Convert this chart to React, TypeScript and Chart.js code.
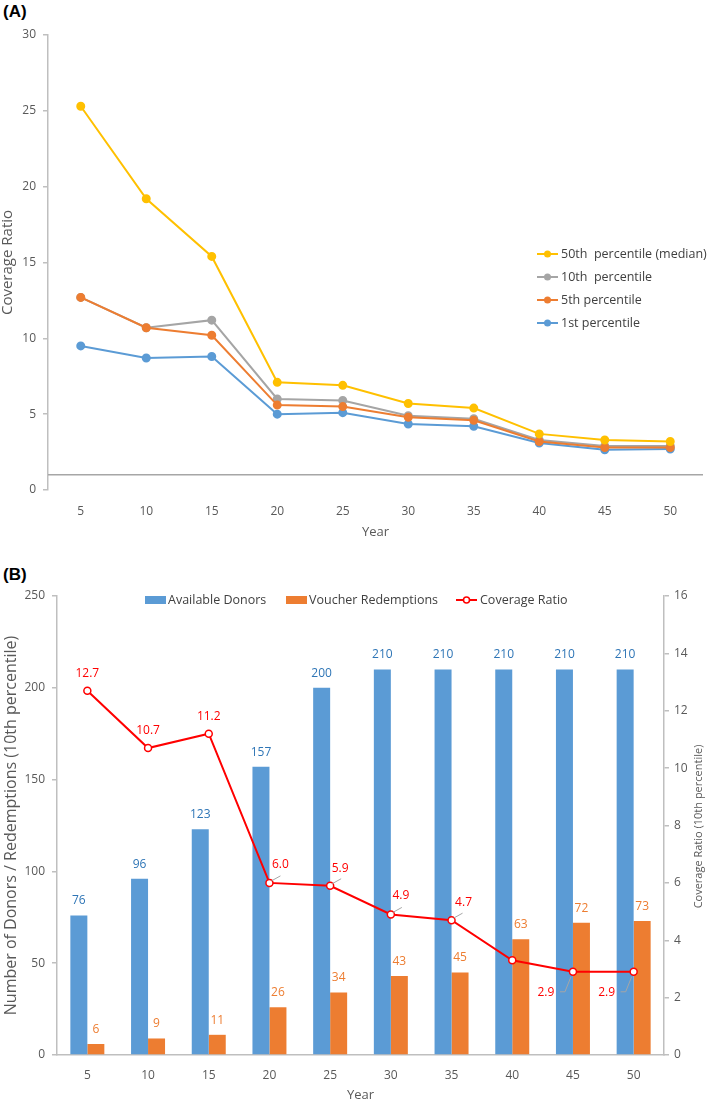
import React, { useEffect, useRef } from "react";
import { Chart, registerables } from "chart.js";

Chart.register(...registerables);

// ---------- DATA ----------
const years = ["5", "10", "15", "20", "25", "30", "35", "40", "45", "50"];

const seriesNamesA = [
  "50th  percentile (median)",
  "10th  percentile",
  "5th percentile",
  "1st percentile",
];
const p50 = [25.3, 19.2, 15.4, 7.1, 6.9, 5.7, 5.4, 3.7, 3.3, 3.2];
const p10 = [12.7, 10.7, 11.2, 6.0, 5.9, 4.9, 4.7, 3.3, 2.9, 2.9];
const p5 = [12.7, 10.7, 10.2, 5.6, 5.5, 4.8, 4.6, 3.2, 2.8, 2.8];
const p1 = [9.5, 8.7, 8.8, 5.0, 5.1, 4.35, 4.2, 3.1, 2.65, 2.7];

const seriesNamesB = ["Available Donors", "Voucher Redemptions", "Coverage Ratio"];
const donors = [76, 96, 123, 157, 200, 210, 210, 210, 210, 210];
const redemptions = [6, 9, 11, 26, 34, 43, 45, 63, 72, 73];
const coverage = [12.7, 10.7, 11.2, 6.0, 5.9, 4.9, 4.7, 3.3, 2.9, 2.9];
const coverageLabels = ["12.7", "10.7", "11.2", "6.0", "5.9", "4.9", "4.7", "", "2.9", "2.9"];

const rightTitleB = "Coverage Ratio (10th percentile)";

// ---------- STYLE ----------
const FONT = "'Open Sans', 'Noto Sans', sans-serif";
const AXIS_GRAY = "#BFBFBF";
const TICK_COLOR = "#595959";
const TEXT_COLOR = "#404040";
const YELLOW = "#FFC000";
const GRAY = "#A5A5A5";
const ORANGE = "#ED7D31";
const BLUE = "#5B9BD5";
const RED = "#FF0000";
const colorsA = [YELLOW, GRAY, ORANGE, BLUE];

export default function App() {
  const refA = useRef<HTMLCanvasElement>(null);
  const refB = useRef<HTMLCanvasElement>(null);

  useEffect(() => {
    Chart.defaults.font.family = FONT;

    const refLine = {
      id: "refLine",
      beforeDatasetsDraw(chart: any) {
        const { ctx, chartArea, scales } = chart;
        const y = scales.y.getPixelForValue(1);
        ctx.save();
        ctx.strokeStyle = "#A6A6A6";
        ctx.lineWidth = 1.5;
        ctx.beginPath();
        ctx.moveTo(chartArea.left, y);
        ctx.lineTo(chartArea.right, y);
        ctx.stroke();
        ctx.restore();
      },
    };

    const legendA = {
      id: "legendA",
      afterDraw(chart: any) {
        const { ctx, chartArea } = chart;
        const x0 = chartArea.right - 166;
        const y0 = chartArea.top + 219;
        ctx.save();
        seriesNamesA.forEach((name, i) => {
          const y = y0 + i * 23;
          ctx.strokeStyle = colorsA[i];
          ctx.fillStyle = colorsA[i];
          ctx.lineWidth = 2;
          ctx.beginPath();
          ctx.moveTo(x0, y);
          ctx.lineTo(x0 + 21, y);
          ctx.stroke();
          ctx.beginPath();
          ctx.arc(x0 + 10.5, y, 3.5, 0, Math.PI * 2);
          ctx.fill();
          ctx.fillStyle = TEXT_COLOR;
          ctx.font = `12.5px ${FONT}`;
          ctx.textAlign = "left";
          ctx.textBaseline = "middle";
          ctx.fillText(name, x0 + 24, y);
        });
        ctx.restore();
      },
    };

    const lineDs = (label: string, data: number[], color: string, order: number) => ({
      label,
      data,
      borderColor: color,
      backgroundColor: color,
      pointBackgroundColor: color,
      pointBorderColor: color,
      pointRadius: 3.5,
      borderWidth: 2,
      order,
    });

    const chartA = new Chart(refA.current!, {
      type: "line",
      data: {
        labels: years,
        datasets: [
          lineDs(seriesNamesA[0], p50, YELLOW, 0),
          lineDs(seriesNamesA[1], p10, GRAY, 2),
          lineDs(seriesNamesA[2], p5, ORANGE, 1),
          lineDs(seriesNamesA[3], p1, BLUE, 3),
        ],
      },
      options: {
        responsive: false,
        animation: false,
        layout: { padding: { top: 35, left: 0, right: 0, bottom: 0 } },
        plugins: { legend: { display: false }, tooltip: { enabled: false } },
        scales: {
          x: {
            offset: true,
            grid: { display: false, drawTicks: false },
            border: { display: false },
            ticks: { color: TICK_COLOR, font: { size: 12 }, padding: 14 },
            title: { display: true, text: "Year", color: TICK_COLOR, font: { size: 13 }, padding: { top: 0, bottom: 5 } },
            afterFit: (s: any) => {
              s.height = 55;
            },
          },
          y: {
            min: 0,
            max: 30,
            ticks: { stepSize: 5, color: TICK_COLOR, font: { size: 12 }, padding: 7 },
            grid: { display: true, drawOnChartArea: false, drawTicks: true, tickLength: 5, color: AXIS_GRAY, lineWidth: 1.5 },
            border: { display: true, color: AXIS_GRAY, width: 1.5 },
            title: { display: true, text: "Coverage Ratio", color: TICK_COLOR, font: { size: 15 }, padding: { top: -1, bottom: 0 } },
            afterFit: (s: any) => {
              s.width = 48;
            },
          },
        },
      },
      plugins: [refLine, legendA],
    } as any);

    const legendB = {
      id: "legendB",
      afterDraw(chart: any) {
        const { ctx, chartArea } = chart;
        const y = chartArea.top + 4;
        ctx.save();
        ctx.font = `12.5px ${FONT}`;
        ctx.textAlign = "left";
        ctx.textBaseline = "middle";
        // Available Donors
        ctx.fillStyle = BLUE;
        ctx.fillRect(145, y - 4, 21, 8);
        ctx.fillStyle = TEXT_COLOR;
        ctx.fillText(seriesNamesB[0], 168, y);
        // Voucher Redemptions
        ctx.fillStyle = ORANGE;
        ctx.fillRect(286, y - 4, 21, 8);
        ctx.fillStyle = TEXT_COLOR;
        ctx.fillText(seriesNamesB[1], 309, y);
        // Coverage Ratio
        ctx.strokeStyle = RED;
        ctx.lineWidth = 2;
        ctx.beginPath();
        ctx.moveTo(456, y);
        ctx.lineTo(477, y);
        ctx.stroke();
        ctx.fillStyle = "#FFFFFF";
        ctx.lineWidth = 1.5;
        ctx.beginPath();
        ctx.arc(466.5, y, 3, 0, Math.PI * 2);
        ctx.fill();
        ctx.stroke();
        ctx.fillStyle = TEXT_COLOR;
        ctx.fillText(seriesNamesB[2], 480, y);

        // right axis title, reading bottom-to-top
        const y1 = chart.scales.y1;
        ctx.save();
        ctx.translate(y1.right - 10, (chartArea.top + chartArea.bottom) / 2 + 1);
        ctx.rotate(-Math.PI / 2);
        ctx.font = `11px ${FONT}`;
        ctx.fillStyle = TICK_COLOR;
        ctx.textAlign = "center";
        ctx.textBaseline = "middle";
        ctx.fillText(rightTitleB, 0, 0);
        ctx.restore();
        ctx.restore();
      },
    };

    // label offsets (dx, dy) for the coverage-ratio labels and leader lines
    const covOffsets: [number, number, boolean][] = [
      [0, -17, false],
      [0, -17, false],
      [0, -17, false],
      [11, -18, true],
      [10, -17, true],
      [10, -19, true],
      [12, -18, true],
      [0, -17, false],
      [-27, 21, true],
      [-27, 21, true],
    ];

    const dataLabels = {
      id: "dataLabelsB",
      afterDatasetsDraw(chart: any) {
        const { ctx } = chart;
        ctx.save();
        ctx.font = `12px ${FONT}`;
        ctx.textAlign = "center";
        ctx.textBaseline = "middle";
        const mDon = chart.getDatasetMeta(1);
        mDon.data.forEach((el: any, i: number) => {
          ctx.fillStyle = "#2E75B6";
          ctx.fillText(String(donors[i]), el.x, el.y - 14.5);
        });
        const mRed = chart.getDatasetMeta(2);
        mRed.data.forEach((el: any, i: number) => {
          ctx.fillStyle = ORANGE;
          ctx.fillText(String(redemptions[i]), el.x, el.y - 14.5);
        });
        const mCov = chart.getDatasetMeta(0);
        mCov.data.forEach((el: any, i: number) => {
          const lbl = coverageLabels[i];
          if (!lbl) return;
          const [dx, dy, leader] = covOffsets[i];
          if (leader) {
            ctx.strokeStyle = "#A6A6A6";
            ctx.lineWidth = 1;
            ctx.beginPath();
            if (dy < 0) {
              ctx.moveTo(el.x + 2, el.y - 2);
              ctx.lineTo(el.x + 11, el.y - 7);
            } else {
              ctx.moveTo(el.x - 2, el.y + 5);
              ctx.lineTo(el.x - 8, el.y + 20);
              ctx.lineTo(el.x - 13, el.y + 20);
            }
            ctx.stroke();
          }
          ctx.fillStyle = RED;
          ctx.fillText(lbl, el.x + dx, el.y + dy);
        });
        ctx.restore();
      },
    };

    const chartB = new Chart(refB.current!, {
      type: "bar",
      data: {
        labels: years,
        datasets: [
          {
            type: "line",
            label: seriesNamesB[2],
            data: coverage,
            yAxisID: "y1",
            borderColor: RED,
            backgroundColor: "#FFFFFF",
            pointBackgroundColor: "#FFFFFF",
            pointBorderColor: RED,
            pointRadius: 3.5,
            pointBorderWidth: 1.5,
            borderWidth: 2,
            order: 0,
          },
          {
            label: seriesNamesB[0],
            data: donors,
            yAxisID: "y",
            backgroundColor: BLUE,
            categoryPercentage: 0.56,
            barPercentage: 1,
            order: 1,
          },
          {
            label: seriesNamesB[1],
            data: redemptions,
            yAxisID: "y",
            backgroundColor: ORANGE,
            categoryPercentage: 0.56,
            barPercentage: 1,
            order: 1,
          },
        ],
      },
      options: {
        responsive: false,
        animation: false,
        layout: { padding: { top: 51, left: 0, right: 0, bottom: 0 } },
        plugins: { legend: { display: false }, tooltip: { enabled: false } },
        scales: {
          x: {
            grid: { display: false, drawTicks: false },
            border: { display: true, color: AXIS_GRAY, width: 1.5 },
            ticks: { color: TICK_COLOR, font: { size: 12 }, padding: 13 },
            title: { display: true, text: "Year", color: TICK_COLOR, font: { size: 13 }, padding: { top: 0, bottom: -2 } },
            afterFit: (s: any) => {
              s.height = 46;
            },
          },
          y: {
            position: "left",
            min: 0,
            max: 250,
            ticks: { stepSize: 50, color: TICK_COLOR, font: { size: 12 }, padding: 7 },
            grid: { display: true, drawOnChartArea: false, drawTicks: true, tickLength: 5, color: AXIS_GRAY, lineWidth: 1.5 },
            border: { display: true, color: AXIS_GRAY, width: 1.5 },
            title: {
              display: true,
              text: "Number of Donors / Redemptions (10th percentile)",
              color: TICK_COLOR,
              font: { size: 16 },
              padding: { top: 2, bottom: 0 },
            },
            afterFit: (s: any) => {
              s.width = 57;
            },
          },
          y1: {
            position: "right",
            min: 0,
            max: 16,
            ticks: { stepSize: 2, color: TICK_COLOR, font: { size: 12 }, padding: 5 },
            grid: { display: true, drawOnChartArea: false, drawTicks: true, tickLength: 5, color: AXIS_GRAY, lineWidth: 1.5 },
            border: { display: true, color: AXIS_GRAY, width: 1.5 },
            title: { display: false },
            afterFit: (s: any) => {
              s.width = 45;
            },
          },
        },
      },
      plugins: [dataLabels, legendB],
    } as any);

    return () => {
      chartA.destroy();
      chartB.destroy();
    };
  }, []);

  const panelLabel: React.CSSProperties = {
    position: "absolute",
    left: 3,
    fontFamily: "'Liberation Sans', Arial, sans-serif",
    fontWeight: "bold",
    fontSize: 17,
    color: "#000",
    lineHeight: "18px",
  };

  return (
    <div style={{ position: "absolute", left: 0, top: 0, width: 709, height: 1101, background: "#fff", overflow: "hidden" }}>
      <div style={{ ...panelLabel, top: 3 }}>(A)</div>
      <canvas ref={refA} width={709} height={545} style={{ position: "absolute", left: 0, top: 0, width: 709, height: 545 }} />
      <div style={{ ...panelLabel, top: 566 }}>(B)</div>
      <canvas ref={refB} width={709} height={556} style={{ position: "absolute", left: 0, top: 545, width: 709, height: 556 }} />
    </div>
  );
}
